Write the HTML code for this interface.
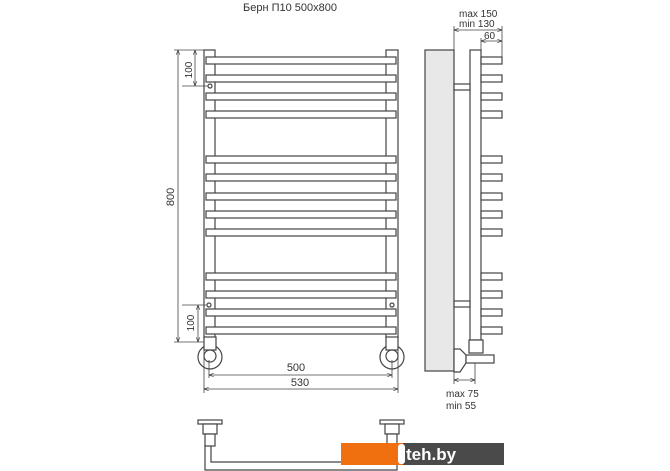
<!DOCTYPE html>
<html><head><meta charset="utf-8"><style>
html,body{margin:0;padding:0;background:#fff}
svg{display:block}
text{font-family:"Liberation Sans",sans-serif;fill:#333}
</style></head><body>
<svg width="670" height="471" viewBox="0 0 670 471" xmlns="http://www.w3.org/2000/svg">
<defs>
<marker id="a" markerWidth="6" markerHeight="6" refX="6" refY="3" orient="auto-start-reverse"><path d="M0,0.8 L6,3 L0,5.2" fill="none" stroke="#333" stroke-width="0.8"/></marker>
</defs>
<text x="290" y="11" font-size="11" text-anchor="middle">Берн П10 500х800</text>
<g fill="#fff" stroke="#444" stroke-width="1.2">
<!-- columns -->
<rect x="204" y="50" width="11" height="288"/>
<rect x="386" y="50" width="12" height="288"/>
<!-- rails -->
<g id="rails">
<rect x="206" y="57" width="190" height="7"/><rect x="206" y="75" width="190" height="7"/>
<rect x="206" y="93" width="190" height="7"/><rect x="206" y="111" width="190" height="7"/>
<rect x="206" y="156" width="190" height="7"/><rect x="206" y="174" width="190" height="7"/>
<rect x="206" y="193" width="190" height="7"/><rect x="206" y="211" width="190" height="7"/>
<rect x="206" y="229" width="190" height="7"/>
<rect x="206" y="273" width="190" height="7"/><rect x="206" y="291" width="190" height="7"/>
<rect x="206" y="309" width="190" height="7"/><rect x="206" y="327" width="190" height="7"/>
</g>
<circle cx="210" cy="86" r="2"/><circle cx="209" cy="305" r="2"/><circle cx="392" cy="305" r="2"/>
<!-- valves front -->
<circle cx="210" cy="357" r="12"/><rect x="204" y="337" width="12" height="13"/><circle cx="210" cy="356" r="6"/>
<circle cx="392" cy="357" r="12"/><rect x="386" y="337" width="12" height="13"/><circle cx="392" cy="356" r="6"/>
</g>
<g stroke="#444" stroke-width="0.8" fill="none">
<line x1="174" y1="50" x2="204" y2="50"/><line x1="174" y1="342" x2="204" y2="342"/>
<line x1="178" y1="50" x2="178" y2="342" marker-start="url(#a)" marker-end="url(#a)"/>
<line x1="182" y1="86" x2="208" y2="86"/>
<line x1="195" y1="50" x2="195" y2="86" marker-start="url(#a)" marker-end="url(#a)"/>
<line x1="182" y1="305" x2="207" y2="305"/>
<line x1="198" y1="305" x2="198" y2="342" marker-start="url(#a)" marker-end="url(#a)"/>
<line x1="204" y1="340" x2="204" y2="393"/><line x1="398" y1="340" x2="398" y2="393"/>
<line x1="209" y1="360" x2="209" y2="378"/><line x1="392" y1="360" x2="392" y2="378"/>
<line x1="209" y1="375" x2="392" y2="375" marker-start="url(#a)" marker-end="url(#a)"/>
<line x1="204" y1="389" x2="398" y2="389" marker-start="url(#a)" marker-end="url(#a)"/>
<!-- side dims -->
<line x1="454" y1="26" x2="454" y2="50"/><line x1="502" y1="26" x2="502" y2="57"/><line x1="481" y1="38" x2="481" y2="50"/>
<line x1="454" y1="30" x2="502" y2="30" marker-start="url(#a)" marker-end="url(#a)"/>
<line x1="481" y1="41" x2="502" y2="41" marker-start="url(#a)" marker-end="url(#a)"/>
<line x1="454" y1="372" x2="454" y2="384"/><line x1="475" y1="363" x2="475" y2="384"/>
<line x1="454" y1="380" x2="475" y2="380" marker-start="url(#a)" marker-end="url(#a)"/>
</g>
<text x="296" y="371" font-size="11" text-anchor="middle">500</text>
<text x="300" y="386" font-size="11" text-anchor="middle">530</text>
<text transform="translate(174,197) rotate(-90)" font-size="11" text-anchor="middle">800</text>
<text transform="translate(192,70) rotate(-90)" font-size="10" text-anchor="middle">100</text>
<text transform="translate(194,323) rotate(-90)" font-size="10" text-anchor="middle">100</text>
<text x="459" y="17" font-size="10">max 150</text>
<text x="459" y="27" font-size="10">min 130</text>
<text x="484" y="39" font-size="10">60</text>
<text x="446" y="397" font-size="10">max 75</text>
<text x="446" y="409" font-size="10">min 55</text>
<!-- side view -->
<g stroke="#444" stroke-width="1.2">
<rect x="425" y="50" width="29" height="321" fill="#e8e8e8"/>
<rect x="470" y="50" width="11" height="290" fill="#fff"/>
<rect x="454" y="84" width="16" height="6" fill="#fff"/>
<rect x="454" y="301" width="16" height="6" fill="#fff"/>
<g fill="#fff">
<rect x="481" y="57" width="21" height="7"/><rect x="481" y="75" width="21" height="7"/>
<rect x="481" y="93" width="21" height="7"/><rect x="481" y="111" width="21" height="7"/>
<rect x="481" y="156" width="21" height="7"/><rect x="481" y="174" width="21" height="7"/>
<rect x="481" y="193" width="21" height="7"/><rect x="481" y="211" width="21" height="7"/>
<rect x="481" y="229" width="21" height="7"/>
<rect x="481" y="273" width="21" height="7"/><rect x="481" y="291" width="21" height="7"/>
<rect x="481" y="309" width="21" height="7"/><rect x="481" y="327" width="21" height="7"/>
<rect x="469" y="340" width="14" height="13"/>
<path d="M454,349 L460,349 L466,355 L466,363 L460,372 L454,372 Z"/>
<rect x="466" y="355" width="28" height="8"/>
</g>
</g>
<!-- bottom view -->
<g stroke="#444" stroke-width="1.2" fill="#fff">
<path d="M205,445 L205,470 L397,470 L397,445 L391,445 L391,462 L211,462 L211,445 Z"/>
<rect x="198" y="420" width="24" height="4"/><rect x="203" y="424" width="14" height="10"/><rect x="205" y="434" width="10" height="12"/>
<rect x="380" y="420" width="24" height="4"/><rect x="385" y="424" width="14" height="10"/><rect x="387" y="434" width="10" height="12"/>
</g>
<rect x="341" y="443" width="62" height="22" fill="#f07010"/>
<rect x="403" y="443" width="101" height="22" fill="#4a4a4a"/>
<rect x="398" y="444" width="7" height="20" rx="3" fill="#fff"/>
<text x="406" y="460" font-size="17" font-weight="bold" style="fill:#fff">teh.by</text>
</svg>
</body></html>
